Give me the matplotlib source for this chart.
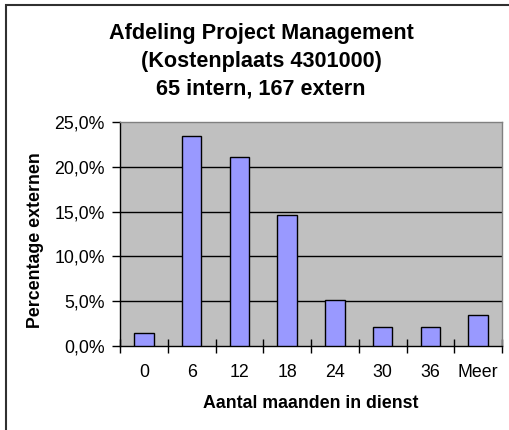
import matplotlib
matplotlib.use("Agg")
import matplotlib.pyplot as plt
from matplotlib.patches import Rectangle
from matplotlib.ticker import FuncFormatter, FixedLocator

plt.rcParams['font.family'] = ['Liberation Sans', 'DejaVu Sans']

categories = ['0', '6', '12', '18', '24', '30', '36', 'Meer']
values = [1.4, 23.4, 21.1, 14.6, 5.1, 2.1, 2.1, 3.5]
yticks = [0, 5, 10, 15, 20, 25]

W, H = 509, 430
fig = plt.figure(figsize=(W/100, H/100), dpi=100)
fig.patch.set_facecolor('white')

# outer chart border (top & left visible)
fig.patches.append(Rectangle((6/W, -0.1), 1.2, (H-5)/H + 0.1, transform=fig.transFigure,
                             fill=False, edgecolor='#303030', linewidth=1.5))

l, r, t, b = 120, 502, 122, 346
ax = fig.add_axes([l/W, (H-b)/H, (r-l)/W, (b-t)/H])
ax.set_facecolor('#C0C0C0')

x = list(range(len(categories)))
ax.bar(x, values, width=0.41, color='#9999FF', edgecolor='black', linewidth=1, zorder=3)

ax.set_xlim(-0.5, len(categories) - 0.5)
ax.set_ylim(0, 25)
ax.set_yticks(yticks)
ax.yaxis.set_major_formatter(FuncFormatter(lambda v, p: f"{v:.1f}".replace('.', ',') + '%'))
for yv in yticks[1:-1]:
    ax.axhline(yv, color='black', linewidth=1, zorder=1)

ax.set_xticks(x)
ax.set_xticklabels(categories)
ax.xaxis.set_minor_locator(FixedLocator([i + 0.5 for i in range(-1, len(categories))]))
ax.tick_params(axis='x', which='major', length=0, pad=13, labelsize=12.8)
ax.tick_params(axis='x', which='minor', length=10, direction='inout', width=1, color='black')
ax.tick_params(axis='y', which='major', length=6, direction='out', width=1, labelsize=12.8, pad=5)

for s in ['left', 'bottom']:
    ax.spines[s].set_color('black')
    ax.spines[s].set_linewidth(1)
for s in ['top', 'right']:
    ax.spines[s].set_color('#808080')
    ax.spines[s].set_linewidth(1)

tx = 261 / W
fig.text(tx, 1 - 33/H, 'Afdeling Project Management', ha='center', va='center',
         fontsize=15.6, fontweight='bold')
fig.text(tx, 1 - 61/H, '(Kostenplaats 4301000)', ha='center', va='center',
         fontsize=15.6, fontweight='bold')
fig.text(tx, 1 - 89/H, '65 intern, 167 extern', ha='center', va='center',
         fontsize=15.6, fontweight='bold')

fig.text(311/W, 1 - 404/H, 'Aantal maanden in dienst', ha='center', va='center',
         fontsize=12.8, fontweight='bold')
fig.text(36/W, 1 - 240/H, 'Percentage externen', ha='center', va='center',
         rotation=90, fontsize=12.8, fontweight='bold')

fig.savefig('out.png', dpi=100)
